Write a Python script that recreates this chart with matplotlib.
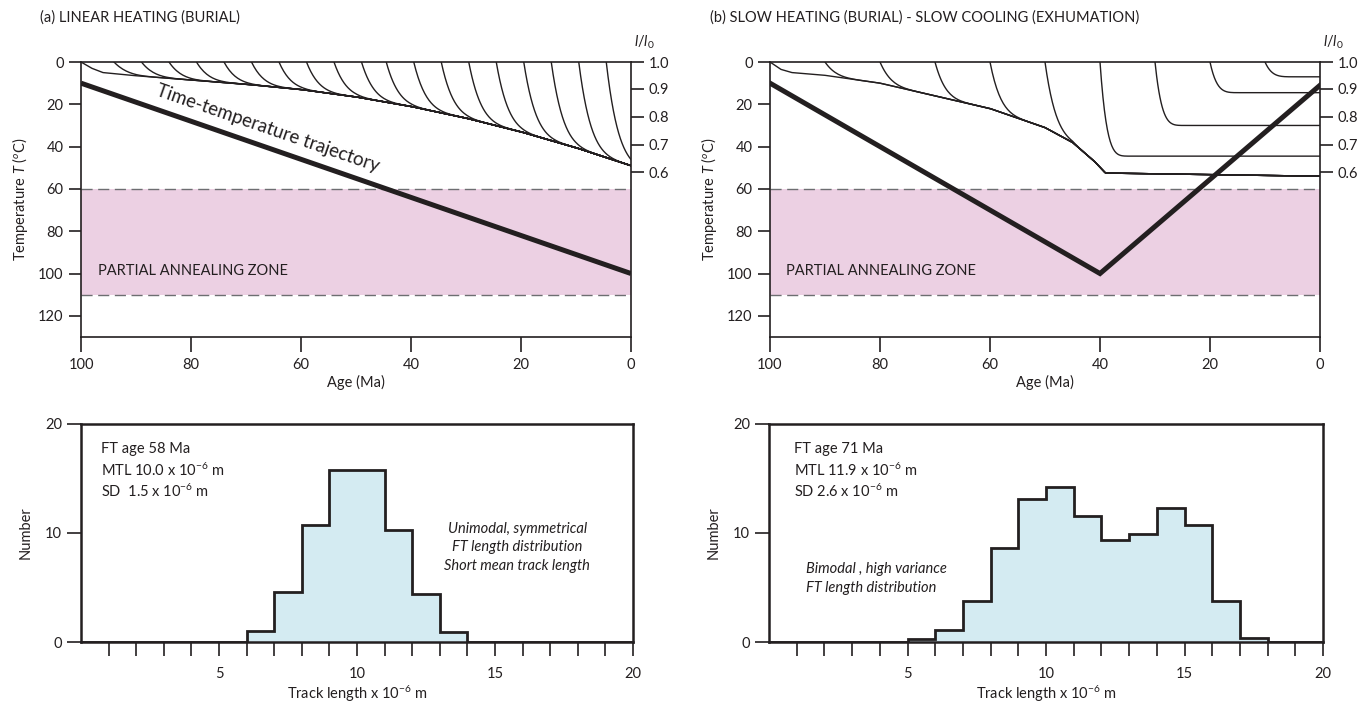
import matplotlib
matplotlib.use("Agg")
import matplotlib.pyplot as plt
import numpy as np

plt.rcParams['font.family'] = ['Lato', 'DejaVu Sans']
plt.rcParams['mathtext.fontset'] = 'custom'
plt.rcParams['mathtext.rm'] = 'Lato'
plt.rcParams['mathtext.it'] = 'Lato:italic'

INK = '#231f20'
PINK = '#ecd0e3'
BLUE = '#d4ebf2'

# ---- data ----
# time-temperature trajectories (age Ma, T degC)
traj_a_age = [100, 0]
traj_a_T = [10, 100]
traj_b_age = [100, 40, 0]
traj_b_T = [10, 100, 11]

paz = (60, 110)

# lower envelope of the track-shortening curves
env_a_age = [100, 98, 96, 90, 80, 70, 60, 50, 40, 30, 20, 10, 0]
env_a_T = [0, 3, 5, 6.5, 8.5, 10.5, 13, 16.5, 21, 26.5, 33, 40.5, 49]
env_b_age = [100, 98, 96, 90, 80, 70, 60, 50, 45, 41, 39, 0]
env_b_T = [0, 3.5, 5, 6.3, 10, 16, 22, 31, 38, 47, 52.5, 54]

# start ages of the individual track curves
starts_a = [94, 89, 84, 79, 74, 69, 64, 59, 54, 49, 44.5, 39.5, 34.5, 29.5, 24.5, 19.5, 14.5, 9.5, 4.5]
starts_b_merge = [90, 80, 70, 60, 50]
starts_b_flat = [40, 30, 20, 10]
levels_b_flat = [44.5, 30, 14.5, 7]

# right axis: reduced length l/l0 against temperature
ratio_labels = ['1.0', '0.9', '0.8', '0.7', '0.6']
ratio_T = [0, 12.7, 25.9, 39, 52]

# track length histograms
len_edges = np.arange(0, 21)
counts_a = [0, 0, 0, 0, 0, 0, 1.0, 4.6, 10.7, 15.8, 15.8, 10.3, 4.4, 0.9, 0, 0, 0, 0, 0, 0]
counts_b = [0, 0, 0, 0, 0, 0.25, 1.1, 3.8, 8.6, 13.1, 14.2, 11.6, 9.4, 9.9, 12.3, 10.7, 3.8, 0.4, 0, 0]

stats_a = ['FT age 58 Ma', 'MTL 10.0 x 10$^{-6}$ m', 'SD  1.5 x 10$^{-6}$ m']
stats_b = ['FT age 71 Ma', 'MTL 11.9 x 10$^{-6}$ m', 'SD 2.6 x 10$^{-6}$ m']
note_a = 'Unimodal, symmetrical\nFT length distribution\nShort mean track length'
note_b = 'Bimodal , high variance\nFT length distribution'

W, H = 1368, 703
fig = plt.figure(figsize=(W / 100, H / 100), dpi=100)


def box(x0, y0, x1, y1):
    return fig.add_axes([x0 / W, (H - y1) / H, (x1 - x0) / W, (y1 - y0) / H])


def merge_curve(t0, env_age, env_T, w=12.0, n=6):
    a = np.linspace(t0, 0, 300)
    e = np.interp(a, env_age[::-1], env_T[::-1])
    d = np.clip((t0 - a) / w, 0, 1)
    return a, e * (1 - (1 - d) ** n)


def flat_curve(t0, level, w=6.0, n=5):
    a = np.linspace(t0, 0, 300)
    d = np.clip((t0 - a) / w, 0, 1)
    return a, level * (1 - (1 - d) ** n)


def temp_panel(ax):
    ax.set_xlim(100, 0)
    ax.set_ylim(130, 0)
    ax.axhspan(paz[0], paz[1], color=PINK, lw=0, zorder=0)
    for yy in paz:
        ax.axhline(yy, color='#6d6e71', lw=1, dashes=(8, 4), zorder=1)
    ax.set_xticks([100, 80, 60, 40, 20, 0])
    ax.set_yticks([0, 20, 40, 60, 80, 100, 120])
    ax.tick_params(direction='out', length=9, width=1.2, labelsize=10.5, colors=INK)
    ax.tick_params(axis='x', length=11, pad=4)
    for s in ax.spines.values():
        s.set_linewidth(1.2)
        s.set_color(INK)
    ax.set_xlabel('Age (Ma)', fontsize=10.5, labelpad=2, color=INK)
    ax.set_ylabel('Temperature $T$ ($^{o}$C)', fontsize=10.5, labelpad=6, color=INK)
    ax.text(97, 99, 'PARTIAL ANNEALING ZONE', fontsize=10.5, va='center', color=INK)
    axr = ax.twinx()
    axr.set_ylim(130, 0)
    axr.set_yticks(ratio_T)
    axr.set_yticklabels(ratio_labels)
    axr.tick_params(direction='out', length=9, width=1.2, labelsize=10.5, colors=INK)
    for s in axr.spines.values():
        s.set_visible(False)
    axr.text(1.005, 1.04, '$l/l_0$', transform=ax.transAxes, fontsize=10.5,
             ha='left', va='bottom', color=INK)


# ---- (a) linear heating ----
ax1 = box(81, 62, 631, 337)
temp_panel(ax1)
ax1.plot(env_a_age, env_a_T, color=INK, lw=1)
for t0 in starts_a:
    a, t = merge_curve(t0, env_a_age, env_a_T)
    ax1.plot(a, t, color=INK, lw=1)
ax1.plot(traj_a_age, traj_a_T, color=INK, lw=3.6, solid_capstyle='butt', zorder=5)
p0 = ax1.transData.transform((100, 10))
p1 = ax1.transData.transform((0, 100))
ang = np.degrees(np.arctan2(p1[1] - p0[1], p1[0] - p0[0]))
ax1.text(66, 31.5, 'Time-temperature trajectory', rotation=ang, rotation_mode='anchor',
         ha='center', va='center', fontsize=13.5, color=INK)
fig.text(40 / W, 1 - 18 / H, '(a) LINEAR HEATING (BURIAL)', fontsize=10.5, va='center', color=INK)

# ---- (b) slow heating - slow cooling ----
ax2 = box(770, 62, 1320, 337)
temp_panel(ax2)
ax2.plot(env_b_age, env_b_T, color=INK, lw=1)
for t0 in starts_b_merge:
    a, t = merge_curve(t0, env_b_age, env_b_T, w=10)
    ax2.plot(a, t, color=INK, lw=1)
for t0, lev in zip(starts_b_flat, levels_b_flat):
    a, t = flat_curve(t0, lev)
    ax2.plot(a, t, color=INK, lw=1)
ax2.plot(traj_b_age, traj_b_T, color=INK, lw=3.6, solid_joinstyle='miter', zorder=5)
fig.text(710 / W, 1 - 18 / H, '(b) SLOW HEATING (BURIAL) - SLOW COOLING (EXHUMATION)',
         fontsize=10.5, va='center', color=INK)


# ---- histograms ----
def hist_panel(ax, counts, stats, stats_x, note, note_xy, note_ha):
    ax.stairs(counts, len_edges, fill=True, color=BLUE, lw=0)
    ax.stairs(counts, len_edges, color=INK, lw=2)
    ax.set_xlim(0, 20)
    ax.set_ylim(0, 20)
    ax.set_yticks([0, 10, 20])
    ax.set_xticks(np.arange(1, 21))
    ax.set_xticklabels(['' if k % 5 else str(k) for k in range(1, 21)])
    ax.tick_params(direction='out', length=10, width=1.2, labelsize=10.5, colors=INK)
    ax.tick_params(axis='x', pad=8)
    for s in ax.spines.values():
        s.set_linewidth(1.8)
        s.set_color(INK)
    ax.set_ylabel('Number', fontsize=10.5, labelpad=9, color=INK)
    ax.set_xlabel('Track length x 10$^{-6}$ m', fontsize=10.5, labelpad=2, color=INK)
    for i, s in enumerate(stats):
        ax.text(stats_x, 0.885 - i * 0.097, s, transform=ax.transAxes, fontsize=10.5,
                va='center', color=INK)
    ax.text(note_xy[0], note_xy[1], note, transform=ax.transAxes, fontsize=10.5,
            style='italic', ha=note_ha, va='center', linespacing=1.42, color=INK)


ax3 = box(81, 424, 633, 642)
hist_panel(ax3, counts_a, stats_a, 0.037, note_a, (0.79, 0.435), 'center')
ax4 = box(769, 424, 1323, 642)
hist_panel(ax4, counts_b, stats_b, 0.045, note_b, (0.067, 0.29), 'left')

fig.savefig('out.png', dpi=100)
